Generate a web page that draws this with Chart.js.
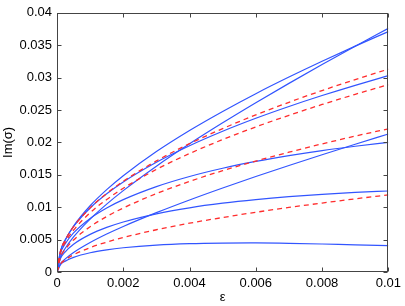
<!DOCTYPE html>
<html>
<head>
<meta charset="utf-8">
<script src="https://cdn.jsdelivr.net/npm/chart.js@4.4.0/dist/chart.umd.min.js"></script>
<style>
  html, body { margin: 0; padding: 0; background: #fff; }
</style>
</head>
<body>
<canvas id="imChart" width="405" height="306"></canvas>
<script>
// epsilon sample points (x axis)
const epsValues = [0, 0.0001, 0.00025, 0.0005, 0.001, 0.0015, 0.002, 0.003, 0.004, 0.005, 0.006, 0.007, 0.008, 0.009, 0.01];

// solid blue curves, Im(sigma)
const blueA = [0, 0.00308, 0.00494, 0.00708, 0.01022, 0.01271, 0.01486, 0.01859, 0.02184, 0.02478, 0.02752, 0.03008, 0.03252, 0.03486, 0.0371];
const blueB = [0, 0.00221, 0.00366, 0.00542, 0.00817, 0.01048, 0.01256, 0.01633, 0.01978, 0.02302, 0.02612, 0.02911, 0.03201, 0.03483, 0.0376];
const blueC = [0, 0.00316, 0.00497, 0.00702, 0.00988, 0.01207, 0.0139, 0.01694, 0.01949, 0.02172, 0.02372, 0.02554, 0.02723, 0.02881, 0.0303];
const blueD = [0, 0.00281, 0.00436, 0.00603, 0.00827, 0.00988, 0.01117, 0.01318, 0.01474, 0.01601, 0.01706, 0.01796, 0.01874, 0.01941, 0.0200];
const blueE = [0, 0.00122, 0.00202, 0.00301, 0.00455, 0.00586, 0.00703, 0.00916, 0.01112, 0.01297, 0.01474, 0.01644, 0.0181, 0.01972, 0.0213];
const blueF = [0, 0.00202, 0.00312, 0.00429, 0.00581, 0.00688, 0.00772, 0.00898, 0.00991, 0.01062, 0.01118, 0.01163, 0.01199, 0.01228, 0.0125];
const blueG = [0, 0.00111, 0.00168, 0.00226, 0.00297, 0.00342, 0.00374, 0.00415, 0.00437, 0.00446, 0.00448, 0.00443, 0.00432, 0.00418, 0.00407];

// dashed red curves
const redA = [0, 0.00313, 0.00495, 0.0070, 0.0099, 0.01212, 0.0140, 0.01714, 0.0198, 0.02213, 0.02425, 0.02619, 0.0280, 0.02969, 0.0313];
const redB = [0, 0.00289, 0.00457, 0.00646, 0.00914, 0.01119, 0.01292, 0.01583, 0.01828, 0.02044, 0.02239, 0.02418, 0.02585, 0.02742, 0.0289];
const redC = [0, 0.00221, 0.00349, 0.00494, 0.00699, 0.00856, 0.00988, 0.0121, 0.01398, 0.01563, 0.01712, 0.01849, 0.01977, 0.02097, 0.0221];
const redD = [0, 0.00119, 0.00188, 0.00266, 0.00376, 0.00461, 0.00532, 0.00652, 0.00753, 0.00841, 0.00922, 0.00996, 0.01064, 0.01129, 0.0119];

const xTickLabels = ['0', '0.002', '0.004', '0.006', '0.008', '0.01'];
const yTickLabels = ['0', '0.005', '0.01', '0.015', '0.02', '0.025', '0.03', '0.035', '0.04'];

const BLUE = 'rgb(50, 85, 255)';
const RED = 'rgb(255, 45, 45)';

function toPoints(vals) {
    return epsValues.map((x, i) => ({ x: x, y: vals[i] }));
}

function curve(vals, dashed) {
    return {
        data: toPoints(vals),
        borderColor: dashed ? RED : BLUE,
        borderWidth: dashed ? 1.3 : 1.2,
        borderDash: dashed ? [5, 4] : [],
        pointRadius: 0,
        fill: false,
        cubicInterpolationMode: 'monotone'
    };
}

// red first so it is drawn on top of the blue lines
const datasets = [
    curve(redA, true), curve(redB, true), curve(redC, true), curve(redD, true),
    curve(blueA, false), curve(blueB, false), curve(blueC, false), curve(blueD, false),
    curve(blueE, false), curve(blueF, false), curve(blueG, false)
];

// matlab style box with inward ticks on all four sides
const boxTicks = {
    id: 'boxTicks',
    afterDraw(chart) {
        const { ctx, chartArea: a, scales } = chart;
        const L = Math.round(a.left) + 0.5, R = Math.round(a.right) - 0.5;
        const T = Math.round(a.top) + 0.5, B = Math.round(a.bottom) - 0.5;
        const len = 4;
        ctx.save();
        ctx.strokeStyle = '#444';
        ctx.lineWidth = 1;
        ctx.beginPath();
        scales.x.ticks.forEach(t => {
            const px = Math.round(scales.x.getPixelForValue(t.value)) + 0.5;
            ctx.moveTo(px, B); ctx.lineTo(px, B - len);
            ctx.moveTo(px, T); ctx.lineTo(px, T + len);
        });
        scales.y.ticks.forEach(t => {
            const py = Math.round(scales.y.getPixelForValue(t.value)) + 0.5;
            ctx.moveTo(L, py); ctx.lineTo(L + len, py);
            ctx.moveTo(R, py); ctx.lineTo(R - len, py);
        });
        ctx.stroke();
        ctx.strokeRect(L, T, R - L, B - T);
        ctx.restore();
    }
};

const font = { family: 'Liberation Sans, Arial, Helvetica, sans-serif', size: 13 };

new Chart(document.getElementById('imChart'), {
    type: 'line',
    data: { datasets: datasets },
    options: {
        responsive: false,
        animation: false,
        layout: { padding: { top: 10, right: 16, left: 0, bottom: 0 } },
        plugins: { legend: { display: false }, tooltip: { enabled: false } },
        scales: {
            x: {
                type: 'linear',
                min: 0,
                max: 0.01,
                grid: { display: false, drawTicks: false },
                border: { display: false },
                ticks: {
                    stepSize: 0.002,
                    color: '#000',
                    font: font,
                    padding: 4,
                    maxRotation: 0,
                    callback: (v, i) => xTickLabels[i]
                },
                title: { display: true, text: 'ε', color: '#000', font: font, padding: { top: 0, bottom: 1 } },
                afterFit: s => { s.height = 34; }
            },
            y: {
                type: 'linear',
                min: 0,
                max: 0.04,
                grid: { display: false, drawTicks: false },
                border: { display: false },
                ticks: {
                    stepSize: 0.005,
                    color: '#000',
                    font: font,
                    padding: 5,
                    callback: (v, i) => yTickLabels[i]
                },
                title: { display: true, text: 'Im(σ)', color: '#000', font: font, padding: { top: 1, bottom: 0 } },
                afterFit: s => { s.width = 57; }
            }
        }
    },
    plugins: [boxTicks]
});
</script>
</body>
</html>
